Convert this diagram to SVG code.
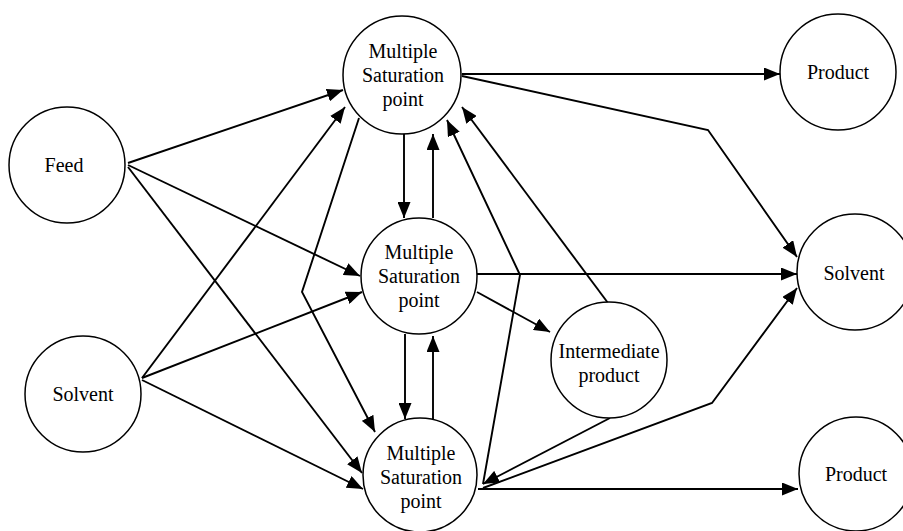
<svg xmlns="http://www.w3.org/2000/svg" width="903" height="531" viewBox="0 0 903 531">
<defs>
<marker id="ah" markerUnits="userSpaceOnUse" markerWidth="16" markerHeight="13" refX="16" refY="6.5" orient="auto">
<path d="M0,0 L16,6.5 L0,13 z" fill="#000"/>
</marker>
<style>
.node circle{fill:#fff;stroke:#000;stroke-width:1.5}
.node text{font-family:"Liberation Serif","Times New Roman",serif;font-size:20px;fill:#000;text-anchor:middle}
#connectors path{fill:none;stroke:#000;stroke-width:1.9;marker-end:url(#ah)}
</style>
</defs>
<rect width="903" height="531" fill="#fff"/>
<g id="connectors">
<path d="M128,163 L343,90"/>
<path d="M128,165 L360,276"/>
<path d="M128,167 L362,473"/>
<path d="M142,378 L345,107"/>
<path d="M142,378 L362,292"/>
<path d="M142,380 L363,489"/>
<path d="M359,118 L302,292 L375,432"/>
<path d="M404,134 L404,218"/>
<path d="M433,218 L433,134"/>
<path d="M405,334 L405,419"/>
<path d="M433,419 L433,336"/>
<path d="M462,74 L780,74"/>
<path d="M462,76 L708,130 L797,257"/>
<path d="M477,274 L797,274"/>
<path d="M477,292 L550,332"/>
<path d="M608,303 L462,107"/>
<path d="M483,484 L520,275 L447,120"/>
<path d="M610,418 L483,484"/>
<path d="M483,488 L712,403 L797,288"/>
<path d="M478,489 L798,489"/>
</g>
<g id="feed" class="node"><circle cx="67" cy="165" r="58"/><text x="64" y="172">Feed</text></g>
<g id="solvent-in" class="node"><circle cx="83" cy="394" r="58"/><text x="83" y="401">Solvent</text></g>
<g id="msp-top" class="node"><circle cx="402" cy="75" r="59"/><text x="403" y="58">Multiple</text><text x="403" y="82">Saturation</text><text x="403" y="106">point</text></g>
<g id="msp-mid" class="node"><circle cx="419" cy="276" r="58"/><text x="419" y="259">Multiple</text><text x="419" y="283">Saturation</text><text x="419" y="307">point</text></g>
<g id="msp-bot" class="node"><circle cx="420" cy="475" r="57"/><text x="421" y="460">Multiple</text><text x="421" y="484">Saturation</text><text x="421" y="508">point</text></g>
<g id="intermediate" class="node"><circle cx="609" cy="360" r="58"/><text x="609" y="358">Intermediate</text><text x="609" y="382">product</text></g>
<g id="product-top" class="node"><circle cx="838" cy="72" r="58"/><text x="838" y="79">Product</text></g>
<g id="solvent-out" class="node"><circle cx="855" cy="272" r="58"/><text x="854" y="280">Solvent</text></g>
<g id="product-bot" class="node"><circle cx="856" cy="474" r="57"/><text x="856" y="481">Product</text></g>
</svg>
